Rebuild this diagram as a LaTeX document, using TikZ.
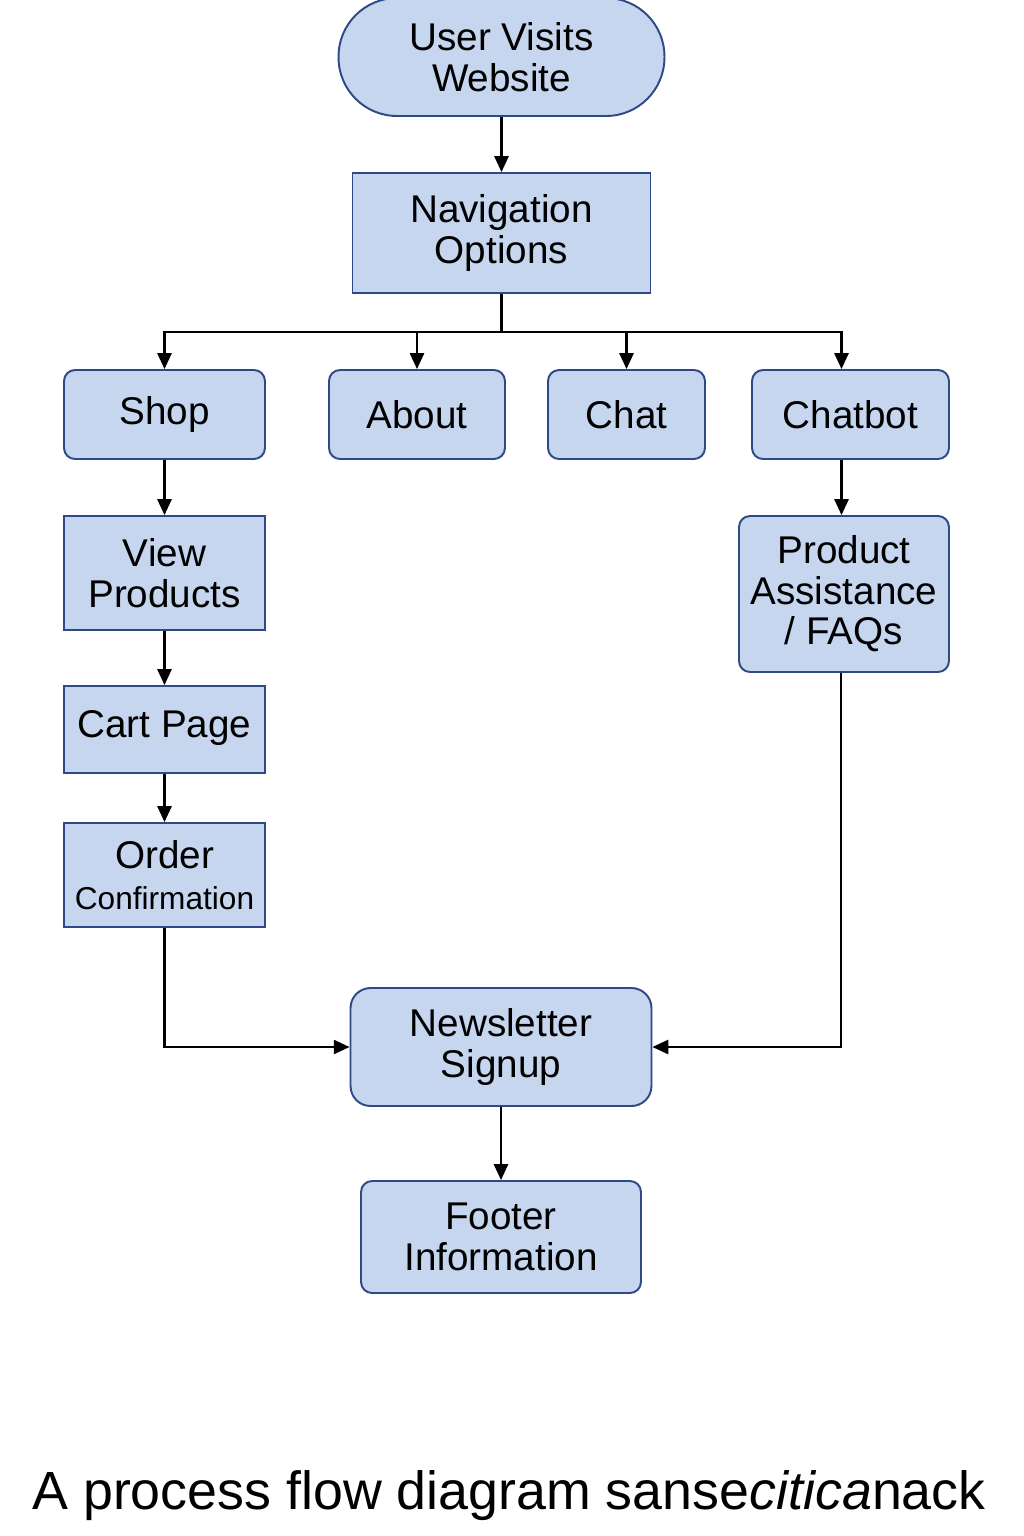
\documentclass[tikz,border=0pt]{standalone}
\usepackage{fontspec}
\setmainfont{Liberation Sans}
\usetikzlibrary{arrows.meta}
\definecolor{boxfill}{RGB}{198,214,239}
\definecolor{boxline}{RGB}{47,72,135}

\begin{document}
\begin{tikzpicture}[x=0.02cm, y=-0.02cm,
        box/.style={draw=boxline, fill=boxfill, line width=1.1pt, align=center,
            inner sep=0pt, font=\fontsize{22}{23}\selectfont},
        roundbox/.style={box, rounded corners=0.22cm},
        flow/.style={-{Triangle[length=9pt, width=8pt]}, line width=1.3pt}]
        \useasboundingbox (0,0) rectangle (1024,1536);

        % Start
        \node[box, rounded corners=1.17cm, minimum width=6.52cm, minimum height=2.36cm]
            (start) at (501.5,57) {User Visits\\Website};
        \node[box, minimum width=5.96cm, minimum height=2.4cm]
            (nav) at (501.5,233) {Navigation\\Options};

        % Menu entries
        \node[roundbox, minimum width=4.02cm, minimum height=1.78cm] (shop) at (164.5,414.5) {Shop};
        \node[roundbox, minimum width=3.52cm, minimum height=1.78cm] (about) at (417,414.5) {About};
        \node[roundbox, minimum width=3.14cm, minimum height=1.78cm] (chat) at (626.5,414.5) {Chat};
        \node[roundbox, minimum width=3.94cm, minimum height=1.78cm] (chatbot) at (850.5,414.5) {Chatbot};

        % Shop branch
        \node[box, minimum width=4.02cm, minimum height=2.28cm] (view) at (164.5,573) {View\\Products};
        \node[box, minimum width=4.02cm, minimum height=1.74cm] (cart) at (164.5,729.5) {\strut Cart Page};
        \node[box, minimum width=4.02cm, minimum height=2.08cm] (order) at (164.5,875)
            {Order\\{\fontsize{18}{20}\selectfont Confirmation}};

        % Chatbot branch
        \node[roundbox, minimum width=4.2cm, minimum height=3.12cm] (assist) at (844,594)
            {Product\\Assistance\\/ FAQs};

        % End
        \node[roundbox, rounded corners=0.4cm, minimum width=6.02cm, minimum height=2.36cm]
            (news) at (501,1047) {Newsletter\\Signup};
        \node[roundbox, minimum width=5.6cm, minimum height=2.24cm] (footer) at (501,1237)
            {Footer\\Information};

        % Connectors
        \coordinate (split) at (501.5,332);
        \draw[flow] (start) -- (nav);
        \draw[line width=1.3pt] (nav) -- (split);
        \foreach \n in {shop, about, chat} {
            \draw[flow] (split) -| (\n);
        }
        \draw[flow] (split) -| ([xshift=-0.18cm]chatbot.north);
        \draw[flow] (shop) -- (view);
        \draw[flow] (view) -- (cart);
        \draw[flow] (cart) -- (order);
        \draw[flow] ([xshift=-0.18cm]chatbot.south) -- ([xshift=-0.18cm]chatbot.south |- assist.north);
        \draw[flow] ([xshift=-0.06cm]assist.south) |- (news.east);
        \draw[flow] (order.south) |- (news.west);
        \draw[flow] (news) -- (footer);

        % Caption
        \node[font=\fontsize{30.6}{30}\selectfont] (caption) at (509,1496)
            {A process flow diagram sanse\textit{citica}nack};

    \end{tikzpicture}
\end{document}
